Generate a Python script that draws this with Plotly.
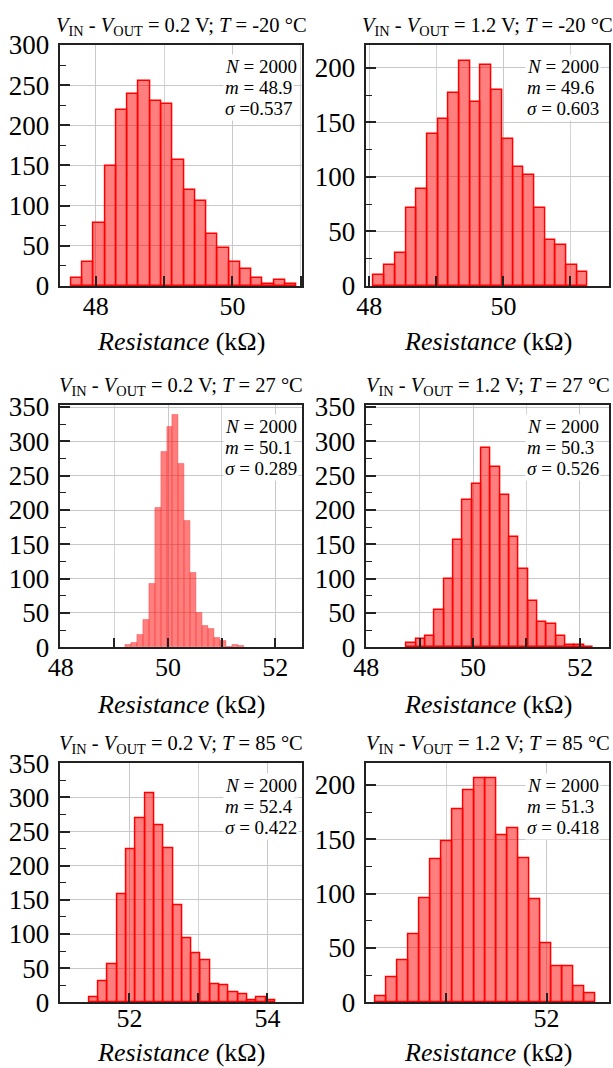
import plotly.graph_objects as go

FONT = "Liberation Serif, Times New Roman, serif"

# Histogram counts (20 bins per panel), first bin edge and bin width in kOhm
counts_a = [10, 30, 79, 149, 219, 239, 255, 230, 226, 157, 120, 106, 65, 47, 30, 21, 10, 3, 7, 3]
edge0_a, binw_a = 47.639, 0.1651
counts_b = [10, 19, 30, 72, 89, 139, 153, 177, 206, 169, 203, 180, 135, 109, 102, 72, 42, 38, 19, 13]
edge0_b, binw_b = 48.066, 0.1596
counts_c = [3, 7, 18, 40, 92, 203, 284, 321, 338, 267, 184, 109, 50, 31, 27, 14, 9, 0, 3, 2]
edge0_c, binw_c = 49.205, 0.1105
counts_d = [6, 12, 17, 54, 99, 156, 215, 238, 290, 263, 222, 160, 114, 67, 37, 34, 16, 4, 3, 1]
edge0_d, binw_d = 48.755, 0.1747
counts_e = [7, 31, 56, 158, 224, 269, 306, 259, 226, 142, 94, 72, 62, 27, 25, 14, 12, 3, 8, 3]
edge0_e, binw_e = 51.417, 0.1347
counts_f = [6, 23, 39, 63, 96, 132, 148, 178, 195, 206, 206, 154, 160, 133, 95, 54, 33, 33, 15, 8]
edge0_f, binw_f = 50.289, 0.110

# Operating conditions and summary statistics of each panel
v_diff = ["0.2", "1.2", "0.2", "1.2", "0.2", "1.2"]
temps = ["-20", "-20", "27", "27", "85", "85"]
n_samples = [2000, 2000, 2000, 2000, 2000, 2000]
means = ["48.9", "49.6", "50.1", "50.3", "52.4", "51.3"]
sigma_txt = ["=0.537", "= 0.603", "= 0.289", "= 0.526", "= 0.422", "= 0.418"]

hists = [
    (counts_a, edge0_a, binw_a),
    (counts_b, edge0_b, binw_b),
    (counts_c, edge0_c, binw_c),
    (counts_d, edge0_d, binw_d),
    (counts_e, edge0_e, binw_e),
    (counts_f, edge0_f, binw_f),
]

# Axis windows
x_ranges = [[47.48, 51.02], [47.955, 51.57], [47.99, 52.5], [48.0, 52.54], [51.0, 54.5], [50.2, 52.62]]
y_ranges = [[0, 300], [0, 221], [0, 353], [0, 353], [0, 350], [0, 220]]

col_domains = [[0.0984, 0.4927], [0.5976, 0.993]]
row_domains = [[0.7322, 0.9579], [0.3939, 0.6208], [0.0615, 0.2853]]
xtitle_shift = [-55, -57, -50]
xlabel_standoff = [-4, -4, -8]

bar_line = ["#ff0000", "#ff0000", "rgba(255,60,60,0.55)", "#ff0000", "#ff0000", "#ff0000"]
bar_line_w = [1.5, 1.5, 0.8, 1.5, 1.5, 1.5]

fig = go.Figure()
layout = dict(
    width=613, height=1068,
    margin=dict(l=0, r=0, t=0, b=0),
    paper_bgcolor="white", plot_bgcolor="white",
    showlegend=False, bargap=0,
    font=dict(family=FONT, color="black"),
)
annotations = []

for i, (counts, edge0, binw) in enumerate(hists):
    k = i + 1
    sfx = "" if k == 1 else str(k)
    row, col = divmod(i, 2)
    centers = [edge0 + binw * (j + 0.5) for j in range(len(counts))]
    fig.add_trace(go.Bar(
        x=centers, y=counts, width=[binw] * len(counts),
        marker=dict(color="rgba(255,0,0,0.5)",
                    line=dict(color=bar_line[i], width=bar_line_w[i])),
        xaxis="x" + sfx, yaxis="y" + sfx, hoverinfo="x+y",
    ))
    layout["xaxis" + sfx] = dict(
        domain=col_domains[col], anchor="y" + sfx, range=x_ranges[i],
        automargin=False,
        tickmode="linear", tick0=0, dtick=2,
        ticks="inside", ticklen=10, tickwidth=1.5, tickcolor="#222",
        showgrid=True, gridcolor="#c8c8c8", gridwidth=1,
        minor=dict(dtick=1, ticks="inside", ticklen=10, tickwidth=1.5,
                   tickcolor="#222", showgrid=True, gridcolor="#d4d4d4"),
        showline=True, linecolor="#222", linewidth=1.5, mirror=True,
        tickfont=dict(family=FONT, size=26, color="black"),
        ticklabelstandoff=xlabel_standoff[row],
        zeroline=False, layer="above traces",
    )
    layout["yaxis" + sfx] = dict(
        domain=row_domains[row], anchor="x" + sfx, range=y_ranges[i],
        automargin=False,
        tickmode="linear", tick0=0, dtick=50,
        ticks="inside", ticklen=10, tickwidth=1.5, tickcolor="#222",
        showgrid=True, gridcolor="#c8c8c8", gridwidth=1,
        minor=dict(dtick=25, ticks="inside", ticklen=6, tickwidth=1.2,
                   tickcolor="#222", showgrid=False),
        showline=True, linecolor="#222", linewidth=1.5, mirror=True,
        tickfont=dict(family=FONT, size=27, color="black"),
        ticklabelstandoff=4,
        zeroline=False, layer="above traces",
    )
    # x-axis title
    annotations.append(dict(
        xref="x%s domain" % sfx, yref="y%s domain" % sfx, x=0.5, y=0,
        xanchor="center", yanchor="middle", yshift=xtitle_shift[row], showarrow=False,
        text="<i>Resistance</i> (kΩ)",
        font=dict(family=FONT, size=26, color="black"),
    ))
    # panel heading
    annotations.append(dict(
        xref="x%s domain" % sfx, yref="y%s domain" % sfx, x=0.5, y=1,
        xanchor="center", yanchor="bottom", yshift=4, showarrow=False,
        text="<i>V</i><sub>IN</sub> - <i>V</i><sub>OUT</sub> = %s V; <i>T</i> = %s °C" % (v_diff[i], temps[i]),
        font=dict(family=FONT, size=20.5, color="black"),
    ))
    # statistics box, one line per annotation
    stat_lines = ["<i>N</i> = %d" % n_samples[i],
                  "<i>m</i> = %s" % means[i],
                  "<i>σ</i> %s" % sigma_txt[i]]
    for j, line in enumerate(stat_lines):
        annotations.append(dict(
            xref="x%s domain" % sfx, yref="y%s domain" % sfx,
            x=0.672 if col == 0 else 0.656, y=1,
            xanchor="left", yanchor="middle", yshift=-22 - 21 * j,
            showarrow=False, align="left", text=line,
            font=dict(family=FONT, size=19, color="black"),
            bgcolor="white", borderpad=1,
        ))

layout["annotations"] = annotations
fig.update_layout(**layout)
fig.write_html("out.html")
